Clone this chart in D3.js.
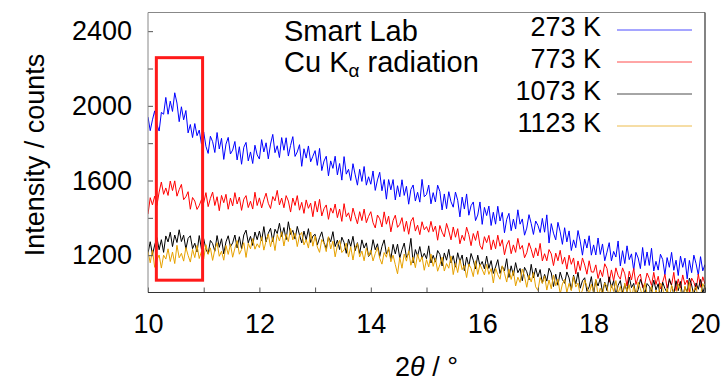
<!DOCTYPE html>
<html>
<head>
<meta charset="utf-8">
<script src="https://cdn.jsdelivr.net/npm/d3@7/dist/d3.min.js"></script>
<style>
  html, body { margin: 0; padding: 0; background: #fff; }
  svg { display: block; font-family: "Liberation Sans", Arial, sans-serif; }
</style>
</head>
<body>
<svg id="chart" width="725" height="383"></svg>
<script>
// XRD scan: 2θ from 10° to 20°, step 0.04°
const scanStart = 10;
const scanStep = 0.04;

const seriesLabels = ["273 K", "773 K", "1073 K", "1123 K"];
const seriesColors = ["#0000ff", "#ff0000", "#000000", "#e6a100"];

const xTickLabels = [10, 12, 14, 16, 18, 20];
const xMinorTicks = [11, 13, 15, 17, 19];
const yTickLabels = [1200, 1600, 2000, 2400];
const yMinorTicks = [1400, 1800, 2200];

// Intensity (counts), one value per scan step
const counts273 = [
  1940, 1867, 1925, 1973, 1900, 1865, 1965, 1955, 2045, 1955, 2025, 1970, 2070, 2015, 1915, 1995, 1925, 1975, 1855, 1900, 1830, 1905, 1840, 1870, 1795,
  1860, 1783, 1745, 1837, 1808, 1750, 1857, 1769, 1826, 1713, 1795, 1831, 1742, 1763, 1809, 1710, 1781, 1687, 1778, 1804, 1705, 1753, 1691, 1789, 1737,
  1715, 1819, 1753, 1802, 1716, 1795, 1847, 1749, 1786, 1723, 1830, 1762, 1829, 1731, 1788, 1835, 1729, 1753, 1792, 1676, 1770, 1720, 1785, 1700, 1730,
  1760, 1681, 1772, 1653, 1704, 1730, 1625, 1705, 1665, 1730, 1630, 1691, 1602, 1728, 1634, 1660, 1600, 1690, 1630, 1575, 1660, 1595, 1675, 1575, 1620,
  1580, 1651, 1547, 1603, 1644, 1545, 1605, 1500, 1605, 1550, 1605, 1496, 1572, 1513, 1604, 1520, 1569, 1473, 1552, 1576, 1490, 1537, 1484, 1606, 1513,
  1525, 1575, 1475, 1535, 1485, 1575, 1541, 1442, 1528, 1449, 1540, 1486, 1457, 1538, 1494, 1405, 1511, 1447, 1528, 1414, 1465, 1485, 1385, 1415, 1485,
  1365, 1456, 1412, 1463, 1359, 1430, 1366, 1462, 1383, 1429, 1320, 1392, 1424, 1331, 1393, 1340, 1443, 1366, 1394, 1307, 1345, 1417, 1369, 1311, 1383,
  1360, 1321, 1397, 1323, 1416, 1265, 1369, 1318, 1282, 1376, 1325, 1258, 1347, 1271, 1330, 1225, 1282, 1240, 1332, 1275, 1200, 1286, 1238, 1304, 1200,
  1255, 1201, 1292, 1204, 1260, 1170, 1216, 1267, 1169, 1220, 1190, 1276, 1142, 1224, 1155, 1250, 1176, 1207, 1119, 1215, 1185, 1128, 1241, 1144, 1217,
  1145, 1237, 1115, 1167, 1120, 1205, 1177, 1095, 1187, 1135, 1215, 1119, 1173, 1091, 1195, 1135, 1184, 1073, 1172, 1106, 1200, 1154, 1093, 1192, 1116,
  1150
];
const counts773 = [
  1420, 1508, 1469, 1516, 1466, 1538, 1592, 1526, 1560, 1520, 1597, 1546, 1598, 1516, 1551, 1579, 1497, 1513, 1540, 1446, 1509, 1490, 1445, 1466, 1498,
  1480, 1535, 1460, 1504, 1538, 1466, 1513, 1438, 1520, 1481, 1526, 1446, 1506, 1464, 1535, 1474, 1511, 1440, 1500, 1519, 1455, 1489, 1447, 1537, 1466,
  1507, 1453, 1497, 1532, 1478, 1450, 1514, 1491, 1547, 1469, 1506, 1454, 1519, 1490, 1431, 1506, 1466, 1519, 1441, 1483, 1424, 1496, 1451, 1479, 1406,
  1489, 1431, 1499, 1410, 1449, 1469, 1392, 1453, 1425, 1474, 1401, 1447, 1381, 1476, 1406, 1427, 1382, 1452, 1408, 1368, 1433, 1385, 1447, 1374, 1408,
  1433, 1374, 1346, 1415, 1395, 1351, 1432, 1366, 1409, 1325, 1386, 1414, 1349, 1365, 1401, 1327, 1382, 1312, 1381, 1402, 1329, 1361, 1310, 1379, 1336,
  1353, 1323, 1381, 1326, 1356, 1280, 1359, 1323, 1298, 1370, 1330, 1282, 1351, 1296, 1342, 1261, 1307, 1278, 1350, 1310, 1251, 1316, 1279, 1330, 1252,
  1231, 1299, 1267, 1306, 1229, 1282, 1234, 1307, 1248, 1283, 1202, 1255, 1279, 1208, 1255, 1215, 1290, 1232, 1252, 1186, 1213, 1266, 1231, 1186, 1239,
  1196, 1263, 1169, 1208, 1170, 1230, 1207, 1144, 1211, 1170, 1226, 1152, 1189, 1125, 1200, 1151, 1185, 1099, 1169, 1118, 1185, 1147, 1098, 1170, 1110,
  1109, 1148, 1075, 1121, 1085, 1154, 1129, 1055, 1121, 1062, 1132, 1091, 1071, 1132, 1100, 1034, 1114, 1067, 1129, 1043, 1083, 1099, 1026, 1049, 1104,
  1076, 1038, 1108, 1043, 1087, 1019, 1056, 1097, 1024, 1065, 1041, 1108, 1010, 1073, 1024, 1094, 1042, 1067, 1003, 1077, 1055, 1013, 1099, 1028, 1084,
  1045
];
const counts1073 = [
  1210, 1272, 1203, 1254, 1294, 1229, 1283, 1215, 1303, 1271, 1323, 1246, 1308, 1268, 1336, 1273, 1307, 1233, 1290, 1304, 1235, 1264, 1217, 1305, 1232,
  1288, 1232, 1207, 1279, 1262, 1221, 1305, 1242, 1288, 1207, 1271, 1304, 1245, 1266, 1308, 1239, 1299, 1234, 1308, 1334, 1266, 1301, 1252, 1324, 1283,
  1329, 1277, 1353, 1271, 1317, 1344, 1272, 1339, 1316, 1371, 1300, 1348, 1283, 1379, 1311, 1333, 1286, 1354, 1308, 1266, 1329, 1281, 1342, 1268, 1302,
  1312, 1254, 1294, 1325, 1267, 1235, 1297, 1272, 1326, 1246, 1281, 1230, 1296, 1268, 1210, 1286, 1247, 1301, 1224, 1267, 1209, 1282, 1238, 1266, 1193,
  1210, 1283, 1229, 1261, 1193, 1247, 1282, 1207, 1231, 1181, 1258, 1207, 1259, 1185, 1229, 1265, 1188, 1209, 1290, 1158, 1230, 1195, 1246, 1184, 1210,
  1181, 1250, 1158, 1199, 1163, 1225, 1204, 1142, 1212, 1173, 1231, 1158, 1197, 1136, 1213, 1165, 1201, 1117, 1190, 1140, 1209, 1173, 1126, 1200, 1142,
  1166, 1127, 1195, 1129, 1171, 1102, 1137, 1176, 1102, 1141, 1116, 1181, 1081, 1143, 1091, 1160, 1106, 1129, 1063, 1135, 1111, 1067, 1151, 1078, 1131,
  1084, 1123, 1050, 1097, 1061, 1130, 1105, 1032, 1098, 1039, 1109, 1069, 1049, 1110, 1078, 1013, 1093, 1046, 1108, 1023, 1063, 1079, 1006, 1030, 1085,
  996, 1066, 1035, 1076, 1000, 1055, 1010, 1084, 1027, 1063, 984, 1039, 1064, 995, 1043, 1005, 1083, 1026, 1049, 985, 1015, 1070, 1036, 993, 1048,
  1033, 1006, 1066, 1014, 1047, 973, 1055, 1021, 999, 1074, 1036, 991, 1063, 1010, 1059, 980, 1029, 1003, 1077, 1040, 984, 1051, 1017, 1070, 995,
  1040
];
const counts1123 = [
  1219, 1159, 1226, 1135, 1174, 1201, 1131, 1200, 1179, 1234, 1166, 1217, 1155, 1253, 1186, 1210, 1168, 1241, 1199, 1163, 1231, 1187, 1252, 1182, 1220,
  1180, 1256, 1204, 1239, 1172, 1229, 1267, 1194, 1221, 1173, 1252, 1204, 1258, 1189, 1237, 1278, 1205, 1230, 1267, 1188, 1264, 1234, 1289, 1232, 1261,
  1240, 1299, 1227, 1276, 1313, 1245, 1296, 1225, 1311, 1276, 1325, 1249, 1312, 1273, 1343, 1282, 1318, 1246, 1305, 1322, 1255, 1284, 1238, 1324, 1248,
  1303, 1244, 1215, 1284, 1263, 1219, 1299, 1233, 1275, 1191, 1251, 1279, 1214, 1229, 1265, 1190, 1245, 1174, 1243, 1263, 1190, 1222, 1170, 1239, 1195,
  1227, 1169, 1209, 1241, 1183, 1152, 1214, 1189, 1244, 1164, 1200, 1149, 1100, 1188, 1130, 1206, 1168, 1223, 1146, 1190, 1133, 1206, 1163, 1191, 1119,
  1176, 1137, 1206, 1140, 1183, 1114, 1149, 1189, 1115, 1155, 1130, 1195, 1096, 1158, 1107, 1176, 1122, 1146, 1080, 1153, 1129, 1085, 1170, 1097, 1151,
  1123, 1094, 1151, 1097, 1128, 1051, 1131, 1095, 1071, 1143, 1103, 1056, 1125, 1070, 1117, 1035, 1082, 1054, 1126, 1086, 1028, 1093, 1056, 1107, 1030,
  1011, 1080, 1049, 1089, 1013, 1067, 1020, 1094, 1036, 1072, 992, 1046, 1071, 1001, 1049, 1010, 1086, 1029, 1050, 985, 1013, 1067, 1033, 989, 1044,
  1001, 1072, 981, 1023, 988, 1052, 1032, 972, 1042, 1005, 1064, 993, 1033, 973, 1051, 1005, 1042, 960, 1033, 985, 1055, 1021, 976, 1051, 995,
  994, 1035, 964, 1013, 979, 1050, 1027, 956, 1024, 967, 1039, 1001, 983, 1046, 1016, 953, 1035, 990, 1054, 971, 1013, 1031, 960, 986, 1048,
  1020
];
const seriesCounts = [counts273, counts773, counts1073, counts1123];

// highlighted low-angle window (2θ range, intensity range)
const boxTheta = [10.15, 10.98];
const boxCounts = [1066, 2258];

const svg = d3.select("#chart");
const plot = { left: 148, right: 705, top: 12.5, bottom: 292.5 };

const x = d3.scaleLinear().domain([10, 20]).range([plot.left, plot.right]);
const y = d3.scaleLinear().domain([1000, 2500]).range([plot.bottom, plot.top]);

svg.append("defs").append("clipPath").attr("id", "plot-clip")
  .append("rect")
  .attr("x", plot.left).attr("y", plot.top)
  .attr("width", plot.right - plot.left).attr("height", plot.bottom - plot.top);

// data lines
const line = d3.line()
  .x((d, i) => x(scanStart + i * scanStep))
  .y(d => y(d));

const lines = svg.append("g").attr("clip-path", "url(#plot-clip)");
seriesCounts.forEach((vals, k) => {
  lines.append("path")
    .datum(vals)
    .attr("fill", "none")
    .attr("stroke", seriesColors[k])
    .attr("stroke-width", 1)
    .attr("stroke-linejoin", "round")
    .attr("d", line);
});

// highlight box
svg.append("rect")
  .attr("x", x(boxTheta[0]))
  .attr("y", y(boxCounts[1]))
  .attr("width", x(boxTheta[1]) - x(boxTheta[0]))
  .attr("height", y(boxCounts[0]) - y(boxCounts[1]))
  .attr("fill", "none")
  .attr("stroke", "#ff1a1a")
  .attr("stroke-width", 3);

// axes (ticks point inward)
const fontSize = 27;
const xAxis = d3.axisBottom(x).tickValues(xTickLabels).tickSize(-5).tickPadding(21).tickFormat(d3.format("d"));
const xMinor = d3.axisBottom(x).tickValues(xMinorTicks).tickSize(-5).tickFormat("");
const yAxis = d3.axisLeft(y).tickValues(yTickLabels).tickSize(-5).tickPadding(16).tickFormat(d3.format("d"));
const yMinor = d3.axisLeft(y).tickValues(yMinorTicks).tickSize(-5).tickFormat("");

function styleAxis(g) {
  g.select(".domain").remove();
  g.selectAll(".tick line").attr("stroke", "#555");
  g.selectAll(".tick text").attr("font-size", fontSize).attr("fill", "#000")
    .attr("font-family", "Liberation Sans, Arial, sans-serif");
}

svg.append("g").attr("transform", `translate(0,${plot.bottom})`).call(xAxis).call(styleAxis);
svg.append("g").attr("transform", `translate(0,${plot.bottom})`).call(xMinor).call(styleAxis);
svg.append("g").attr("transform", `translate(${plot.left},0)`).call(yAxis).call(styleAxis);
svg.append("g").attr("transform", `translate(${plot.left},0)`).call(yMinor).call(styleAxis);

// frame
svg.append("path")
  .attr("d", `M${plot.left},${plot.bottom}V${plot.top}H${plot.right}`)
  .attr("fill", "none").attr("stroke", "#888").attr("stroke-width", 1);
svg.append("path")
  .attr("d", `M${plot.left},${plot.bottom}H${plot.right}V${plot.top}`)
  .attr("fill", "none").attr("stroke", "#333").attr("stroke-width", 1.2);

// axis titles
svg.append("text")
  .attr("transform", "translate(44,155) rotate(-90)")
  .attr("text-anchor", "middle")
  .attr("font-size", fontSize)
  .text("Intensity / counts");

const xTitle = svg.append("text")
  .attr("x", (plot.left + plot.right) / 2)
  .attr("y", 376)
  .attr("text-anchor", "middle")
  .attr("font-size", fontSize);
xTitle.append("tspan").text("2");
xTitle.append("tspan").attr("font-style", "italic").text("θ");
xTitle.append("tspan").text(" / °");

// instrument note
const noteSize = 29;
svg.append("text").attr("x", 284).attr("y", 41).attr("font-size", noteSize).text("Smart Lab");
const note = svg.append("text").attr("x", 284).attr("y", 72).attr("font-size", noteSize);
note.append("tspan").text("Cu K");
note.append("tspan").attr("font-size", 19).attr("dy", 5).text("α");
note.append("tspan").attr("dy", -5).text(" radiation");

// legend
const legend = svg.append("g");
seriesLabels.forEach((label, k) => {
  const base = 36 + k * 32;
  legend.append("text")
    .attr("x", 601).attr("y", base)
    .attr("text-anchor", "end")
    .attr("font-size", fontSize)
    .text(label);
  legend.append("line")
    .attr("x1", 617).attr("x2", 692)
    .attr("y1", base - 6).attr("y2", base - 6)
    .attr("stroke", seriesColors[k])
    .attr("stroke-width", 1)
    .attr("stroke-opacity", 0.7);
});
</script>
</body>
</html>
